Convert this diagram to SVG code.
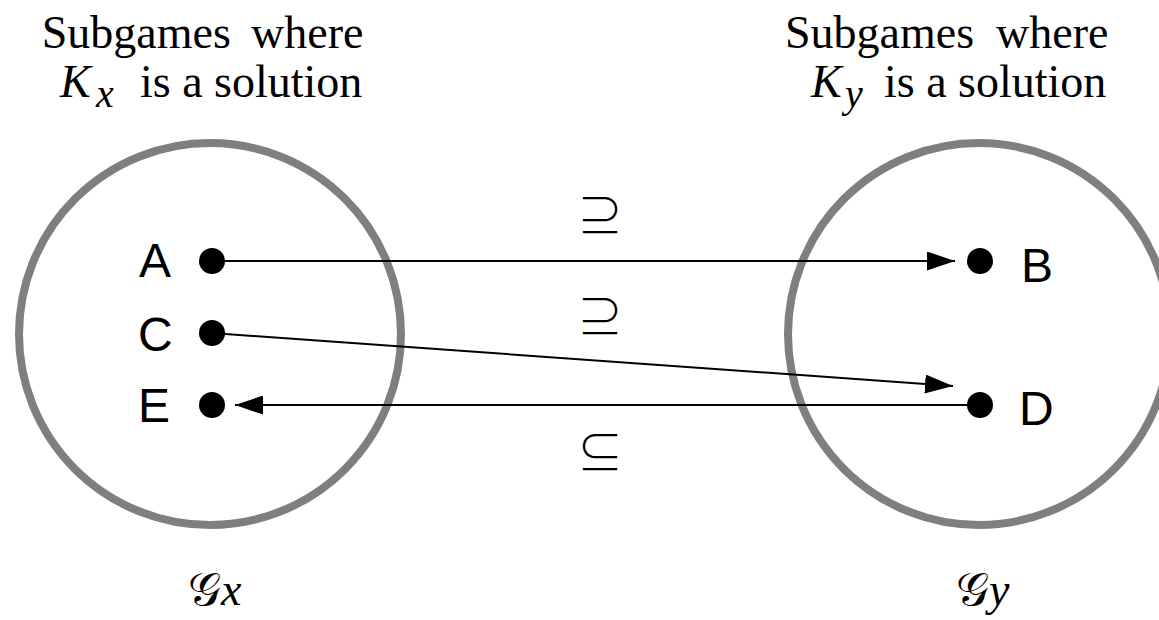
<svg xmlns="http://www.w3.org/2000/svg" width="1159" height="620" viewBox="0 0 1159 620">
  <style>
    .set { fill: none; stroke: #7f7f7f; stroke-width: 8; }
    .dot { fill: #000; }
    .lbl { font-family: "Liberation Sans", Arial, sans-serif; font-size: 48px; fill: #000; }
    .ttl { font-family: "Liberation Serif", "Times New Roman", serif; font-size: 46px; fill: #000; }
    .it { font-style: italic; }
    .sub { font-size: 40px; }
    .rel { font-family: "Noto Sans CJK JP", "DejaVu Sans", sans-serif; font-weight: 300; font-size: 46px; fill: #000; text-anchor: middle; }
    .edge { stroke: #000; stroke-width: 2; fill: none; marker-end: url(#arrow); }
    .cal { font-family: "DejaVu Serif", "DejaVu Sans", "Liberation Serif", serif; font-size: 46px; fill: #000; }
  </style>
  <defs>
    <marker id="arrow" markerUnits="userSpaceOnUse" markerWidth="28" markerHeight="19" refX="28" refY="9.5" orient="auto">
      <path d="M0,0 L28,9.5 L0,19 z" fill="#000"/>
    </marker>
  </defs>
  <rect width="1159" height="620" fill="#fff"/>

  <!-- set titles -->
  <g id="title-x" class="ttl">
    <text x="41.7" y="48">Subgames</text>
    <text x="251" y="48">where</text>
    <text y="97"><tspan x="60" class="it">K</tspan><tspan x="96" class="it sub" dy="10">x</tspan><tspan x="140" dy="-10">is a solution</tspan></text>
  </g>
  <g id="title-y" class="ttl">
    <text x="785" y="48">Subgames</text>
    <text x="996" y="48">where</text>
    <text y="97"><tspan x="811" class="it">K</tspan><tspan x="845" class="it sub" dy="10">y</tspan><tspan x="884" dy="-10">is a solution</tspan></text>
  </g>

  <!-- the two sets of subgames -->
  <g id="set-x"><circle class="set" cx="210" cy="334" r="191"/></g>
  <g id="set-y"><circle class="set" cx="979" cy="334" r="191"/></g>

  <!-- connectors -->
  <g id="connectors">
    <line class="edge" x1="212" y1="261" x2="955" y2="261"/>
    <line class="edge" x1="212" y1="333" x2="953" y2="386"/>
    <line class="edge" x1="980" y1="405" x2="235" y2="405"/>
    <text class="rel" x="600" y="231.5">⊇</text>
    <text class="rel" x="600" y="333">⊇</text>
    <text class="rel" x="600" y="469">⊆</text>
  </g>

  <!-- nodes -->
  <g id="node-A"><circle class="dot" cx="212" cy="261" r="13"/><text class="lbl" x="139" y="277">A</text></g>
  <g id="node-C"><circle class="dot" cx="212" cy="333" r="13"/><text class="lbl" x="138" y="351">C</text></g>
  <g id="node-E"><circle class="dot" cx="212" cy="405" r="13"/><text class="lbl" x="138" y="422">E</text></g>
  <g id="node-B"><circle class="dot" cx="980" cy="261" r="13"/><text class="lbl" x="1021" y="282">B</text></g>
  <g id="node-D"><circle class="dot" cx="980" cy="405" r="13"/><text class="lbl" x="1019" y="425">D</text></g>

  <!-- set names -->
  <g id="name-x"><text class="cal" x="188" y="605">𝒢<tspan class="ttl it" font-size="46">x</tspan></text></g>
  <g id="name-y"><text class="cal" x="956" y="605">𝒢<tspan class="ttl it" font-size="46">y</tspan></text></g>
</svg>
